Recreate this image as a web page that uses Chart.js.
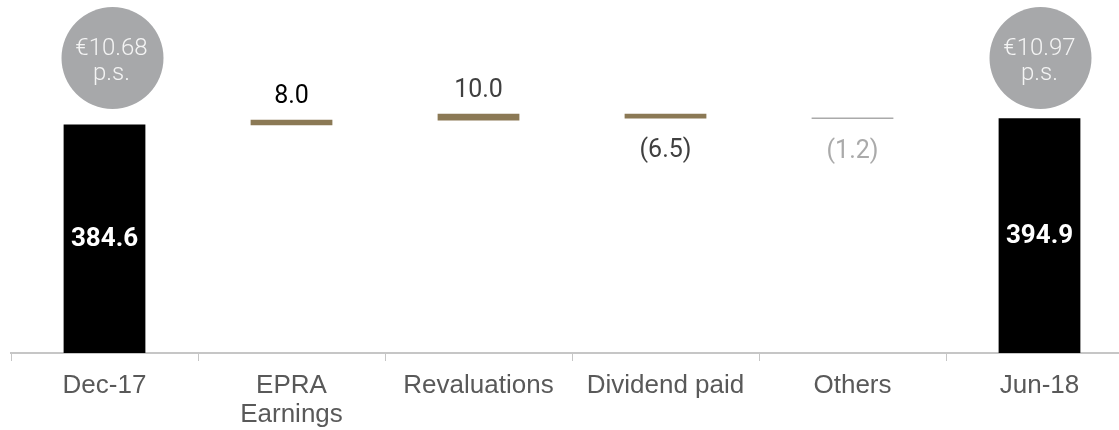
<!DOCTYPE html>
<html>
<head>
<meta charset="utf-8">
<title>NAV bridge</title>
<script src="https://cdn.jsdelivr.net/npm/chart.js@4/dist/chart.umd.min.js"></script>
<style>
  html, body { margin: 0; padding: 0; background: #fff; overflow: hidden; }
  #wrap { position: relative; width: 1133px; height: 430px; }
</style>
</head>
<body>
<div id="wrap"><canvas id="bridge"></canvas></div>
<script>
// NAV bridge, EUR m
const categories = ['Dec-17', ['EPRA', 'Earnings'], 'Revaluations', 'Dividend paid', 'Others', 'Jun-18'];
const openingNav = 384.6;
const movements = [8.0, 10.0, -6.5, -1.2];
const closingNav = 394.9;
const perShare = ['€10.68', '€10.97'];

const barColors = ['#000000', '#8b7955', '#8b7955', '#8b7955', '#aaaaaa', '#000000'];
const labelColors = ['#ffffff', '#000000', '#404040', '#404040', '#aaaaaa', '#ffffff'];

// floating bars: totals from zero, movements from running total
const ranges = [[0, openingNav]];
let running = openingNav;
movements.forEach(m => {
    ranges.push([running, running + m]);
    running += m;
});
ranges.push([0, closingNav]);

const valueTexts = [openingNav.toFixed(1)]
    .concat(movements.map(m => m < 0 ? '(' + Math.abs(m).toFixed(1) + ')' : m.toFixed(1)))
    .concat([closingNav.toFixed(1)]);

const bridgeLabels = {
    id: 'bridgeLabels',
    afterDatasetsDraw(chart) {
        const ctx = chart.ctx;
        const bars = chart.getDatasetMeta(0).data;
        ctx.save();
        ctx.textAlign = 'center';
        ctx.textBaseline = 'middle';
        bars.forEach((bar, i) => {
            const total = i === 0 || i === bars.length - 1;
            const top = Math.min(bar.y, bar.base);
            const bottom = Math.max(bar.y, bar.base);
            ctx.fillStyle = labelColors[i];
            if (total) {
                ctx.font = 'bold 26px Roboto';
                ctx.fillText(valueTexts[i], bar.x, (top + bottom) / 2 + 1);
            } else if (movements[i - 1] >= 0) {
                ctx.font = '25px Roboto';
                ctx.fillText(valueTexts[i], bar.x, top - 23);
            } else {
                ctx.font = '25px Roboto';
                ctx.fillText(valueTexts[i], bar.x, bottom + 33);
            }
        });

        // per-share bubbles over the two totals
        const shift = [8, 1];
        [0, bars.length - 1].forEach((idx, k) => {
            const cx = bars[idx].x + shift[k];
            const cy = 58;
            ctx.beginPath();
            ctx.arc(cx, cy, 51, 0, Math.PI * 2);
            ctx.fillStyle = '#a7a8aa';
            ctx.fill();
            ctx.fillStyle = '#f4f4f4';
            ctx.font = '300 24px Roboto';
            ctx.textBaseline = 'alphabetic';
            ctx.fillText(perShare[k], cx - 1, 55);
            ctx.fillText('p.s.', cx - 1, 80);
        });
        ctx.restore();
    }
};

new Chart(document.getElementById('bridge'), {
    type: 'bar',
    data: {
        labels: categories,
        datasets: [{
            data: ranges,
            backgroundColor: barColors,
            borderWidth: 0,
            inflateAmount: 0.4,
            barPercentage: 0.433,
            categoryPercentage: 1.0
        }]
    },
    options: {
        responsive: true,
        maintainAspectRatio: false,
        animation: false,
        layout: { padding: { left: 11, right: 0, top: 0, bottom: 0 } },
        plugins: {
            legend: { display: false },
            tooltip: { enabled: false }
        },
        scales: {
            x: {
                afterFit(scale) { scale.height = 77; },
                border: { display: true, color: '#c6c6c6', width: 2 },
                grid: {
                    offset: true,
                    drawOnChartArea: false,
                    drawTicks: true,
                    tickLength: 8,
                    color: '#c6c6c6',
                    lineWidth: 1
                },
                ticks: {
                    color: '#595959',
                    padding: 11,
                    maxRotation: 0,
                    autoSkip: false,
                    font: { family: '"Liberation Sans", Arial, sans-serif', size: 26, lineHeight: 1.1 }
                }
            },
            y: {
                display: false,
                min: 0,
                max: 595
            }
        }
    },
    plugins: [bridgeLabels]
});
</script>
</body>
</html>
